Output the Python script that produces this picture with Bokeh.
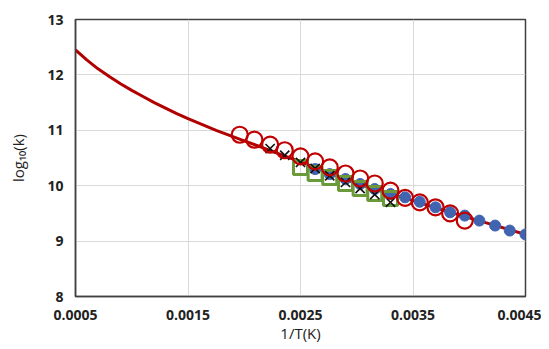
from bokeh.plotting import figure
from bokeh.models import FixedTicker, NumeralTickFormatter
from bokeh.embed import file_html
from bokeh.resources import INLINE

# fitted curve
curve_x = [0.0005, 0.0006, 0.0007, 0.0008, 0.0009, 0.0010, 0.0011, 0.0012, 0.0013, 0.0014,
           0.0015, 0.00175, 0.002, 0.00225, 0.0025, 0.00275, 0.003, 0.00325, 0.0035,
           0.00375, 0.004, 0.00425, 0.0045]
curve_y = [12.45, 12.27, 12.11, 11.97, 11.84, 11.72, 11.61, 11.50, 11.40, 11.30,
           11.21, 11.00, 10.81, 10.62, 10.43, 10.23, 10.04, 9.88, 9.73,
           9.57, 9.42, 9.27, 9.12]

# red open circles
circ_x = [0.00196, 0.00209, 0.00223, 0.00236, 0.00250, 0.00263, 0.00276, 0.00290,
          0.00303, 0.00316, 0.00330, 0.00343, 0.00356, 0.00370, 0.00383, 0.00396]
circ_y = [10.92, 10.83, 10.74, 10.64, 10.53, 10.44, 10.33, 10.22,
          10.13, 10.04, 9.91, 9.78, 9.70, 9.61, 9.50, 9.37]

# black crosses
x_x = [0.00223, 0.00236, 0.00250, 0.00263, 0.00276, 0.00290, 0.00303, 0.00316, 0.00330]
x_y = [10.67, 10.55, 10.42, 10.31, 10.18, 10.06, 9.95, 9.84, 9.70]

# green open squares
sq_x = [0.00250, 0.00263, 0.00276, 0.00290, 0.00303, 0.00316, 0.00330]
sq_y = [10.33, 10.22, 10.15, 10.04, 9.95, 9.86, 9.77]

# blue dots
bl_x = [0.00263, 0.00276, 0.00290, 0.00303, 0.00316, 0.00330, 0.00343, 0.00356,
        0.00370, 0.00383, 0.00396, 0.00409, 0.00423, 0.00436, 0.00450]
bl_y = [10.30, 10.21, 10.12, 10.03, 9.94, 9.85, 9.79, 9.71,
        9.61, 9.52, 9.46, 9.37, 9.28, 9.19, 9.12]

x_ticks = [0.0005, 0.0015, 0.0025, 0.0035, 0.0045]
y_ticks = [8, 9, 10, 11, 12, 13]

p = figure(frame_width=450, frame_height=277, output_backend="svg", toolbar_location=None,
           x_range=(0.0005, 0.0045), y_range=(8, 13),
           min_border_left=75, min_border_right=16, min_border_top=19, min_border_bottom=40)
p.background_fill_color = "white"
p.border_fill_color = "white"
p.outline_line_color = "#404040"
p.outline_line_width = 1.5

p.xaxis.ticker = FixedTicker(ticks=x_ticks)
p.yaxis.ticker = FixedTicker(ticks=y_ticks)
p.xaxis.formatter = NumeralTickFormatter(format="0.0000")
for ax in (p.xaxis, p.yaxis):
    ax.major_tick_out = 0
    ax.major_tick_in = 0
    ax.minor_tick_out = 0
    ax.minor_tick_in = 0
    ax.axis_line_color = "#404040"
    ax.axis_line_width = 1.5
    ax.major_label_text_font = "Open Sans"
    ax.major_label_text_font_style = "bold"
    ax.major_label_text_font_size = "14px"
    ax.major_label_text_color = "#222222"
    ax.axis_label_text_font = "Open Sans"
    ax.axis_label_text_font_style = "normal"
    ax.axis_label_text_font_size = "15px"
    ax.axis_label_text_color = "#222222"
p.xaxis.major_label_standoff = 13
p.yaxis.major_label_standoff = 12
p.xaxis.axis_label = "1/T(K)"
p.yaxis.axis_label = "log\u2081\u2080(k)"
p.xaxis.axis_label_standoff = 0
p.yaxis.axis_label_standoff = 16

p.grid.grid_line_color = "#D9D9D9"
p.grid.grid_line_width = 1

p.line(curve_x, curve_y, line_color="#B00000", line_width=3)
p.scatter(bl_x, bl_y, marker="circle", size=11, fill_color="#4064B0", line_color="#4064B0")
p.scatter(sq_x, sq_y, marker="square", size=14, fill_color=None, line_color="#6A9A3A", line_width=3)
p.scatter(x_x, x_y, marker="x", size=13, line_color="#111111", line_width=1.6)
p.scatter(circ_x, circ_y, marker="circle", size=16, fill_color=None, line_color="#C00000", line_width=2.2)

open("out.html", "w").write(file_html(p, INLINE))
